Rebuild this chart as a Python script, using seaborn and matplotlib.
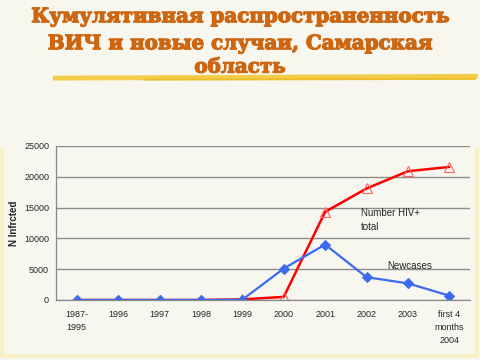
import matplotlib
matplotlib.use('Agg')
import matplotlib.pyplot as plt
import matplotlib.patheffects as pe
import seaborn as sns
from matplotlib.lines import Line2D

# данные
categories = ['1987-\n1995', '1996', '1997', '1998', '1999', '2000',
              '2001', '2002', '2003', 'first 4\nmonths\n2004']
total_hiv = [0, 0, 0, 0, 100, 500, 14300, 18100, 20900, 21600]
new_cases = [0, 0, 0, 0, 50, 5100, 9000, 3700, 2700, 700]
y_ticks = [0, 5000, 10000, 15000, 20000, 25000]
title_lines = ['Кумулятивная распространенность',
               'ВИЧ и новые случаи, Самарская',
               'область']

bg = '#F8F7EF'
title_color = '#CC6611'
sns.set_style('white')
plt.rcParams['font.family'] = ['Liberation Sans', 'DejaVu Sans']

fig = plt.figure(figsize=(4.8, 3.6), dpi=100, facecolor=bg)
ax = fig.add_axes([0.1167, 0.1667, 0.8625, 0.4278])
ax.set_facecolor(bg)

# заголовок (обводка делает шрифт жирнее)
for txt, yy in zip(title_lines, [0.955, 0.88, 0.815]):
    fig.text(0.5, yy, txt, ha='center', va='center', fontsize=14.3,
             fontweight='bold', color=title_color, family='DejaVu Serif',
             path_effects=[pe.withStroke(linewidth=0.9, foreground=title_color)])

# жёлтый мазок под заголовком
fig.add_artist(Line2D([0.11, 0.995], [0.783, 0.788], color='#F3CD4A', lw=3.5,
                      solid_capstyle='butt', transform=fig.transFigure))
fig.add_artist(Line2D([0.30, 0.99], [0.779, 0.781], color='#EDBE2E', lw=1.5,
                      transform=fig.transFigure))

# бледно-жёлтая рамка вокруг области диаграммы
frame_kw = dict(color='#F6F0C6', lw=3, transform=fig.transFigure)
fig.add_artist(Line2D([0.004, 0.004], [0.01, 0.585], **frame_kw))
fig.add_artist(Line2D([0.994, 0.994], [0.01, 0.585], **frame_kw))
fig.add_artist(Line2D([0.004, 0.994], [0.01, 0.01], **frame_kw))

x = list(range(len(categories)))
sns.lineplot(x=x, y=total_hiv, ax=ax, color='#FF0000', lw=1.8, marker='^',
             markersize=7, markerfacecolor='none', markeredgecolor='#FF6666',
             markeredgewidth=0.8, sort=False)
sns.lineplot(x=x, y=new_cases, ax=ax, color='#3A6BF0', lw=1.6, marker='D',
             markersize=4.8, markerfacecolor='#3A6BF0', markeredgecolor='#3A6BF0',
             sort=False)

ax.set_xlim(-0.5, len(categories) - 0.5)
ax.set_ylim(0, 25000)
ax.set_yticks(y_ticks)
ax.set_yticklabels([str(v) for v in y_ticks], fontsize=6.5)
ax.set_xticks(x)
ax.set_xticklabels(categories, fontsize=6.5, linespacing=1.6)
ax.set_xticks([i + 0.5 for i in x[:-1]], minor=True)
ax.tick_params(axis='x', which='major', length=0, pad=7)
ax.tick_params(axis='x', which='minor', length=3, color='#888888', direction='in')
ax.tick_params(axis='y', length=3, color='#888888', direction='out', pad=2)
ax.grid(axis='y', color='#8C8C8C', lw=1.0)
ax.set_axisbelow(True)
for s in ['top', 'right']:
    ax.spines[s].set_visible(False)
for s in ['left', 'bottom']:
    ax.spines[s].set_color('#888888')
    ax.spines[s].set_linewidth(0.9)

ax.set_ylabel('N Infrcted', fontsize=7, fontweight='bold', labelpad=4)

ax.text(6.87, 15000, 'Number HIV+\ntotal', fontsize=7, ha='left', va='top',
        linespacing=1.6)
ax.text(7.5, 5500, 'Newcases', fontsize=7, ha='left', va='center')

fig.savefig('out.png', dpi=100, facecolor=bg)
